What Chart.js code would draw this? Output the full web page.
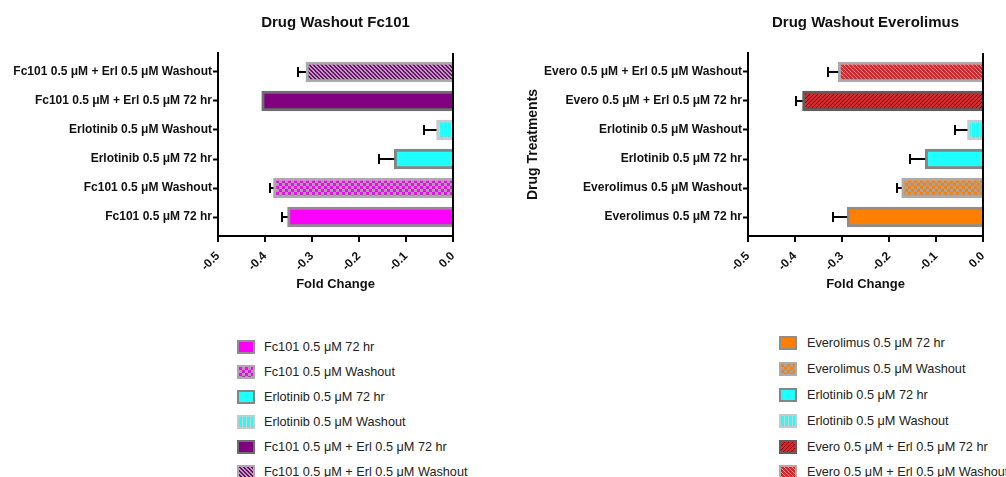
<!DOCTYPE html>
<html>
<head>
<meta charset="utf-8">
<script src="https://cdn.jsdelivr.net/npm/chart.js@4.4.1/dist/chart.umd.min.js"></script>
<style>
  html, body { margin: 0; padding: 0; background: #fff; }
  body { width: 1006px; height: 477px; position: relative; overflow: hidden;
         font-family: "Liberation Sans", Arial, sans-serif; }
  canvas { position: absolute; top: 0; }
  #fcChart { left: 0; }
  #evChart { left: 500px; }
  .legend { position: absolute; top: 0; font-size: 12.7px; color: #222; }
  .item { position: absolute; left: 0; height: 18px; line-height: 18px; white-space: nowrap; }
  .sw { position: absolute; left: 0; top: 2px; width: 14px; height: 10px; border: 2px solid #999; }
  .lbl { position: absolute; top: 0; }
</style>
</head>
<body>
<canvas id="fcChart" width="490" height="300"></canvas>
<canvas id="evChart" width="506" height="300"></canvas>
<div class="legend" id="fcLegend" style="left:237px"></div>
<div class="legend" id="evLegend" style="left:779px"></div>

<script>
// ---- data (index 0 is the bottom row / first legend entry) ----
const fcLabels = [
  'Fc101 0.5 μM 72 hr',
  'Fc101 0.5 μM Washout',
  'Erlotinib 0.5 μM 72 hr',
  'Erlotinib 0.5 μM Washout',
  'Fc101 0.5 μM + Erl 0.5 μM 72 hr',
  'Fc101 0.5 μM + Erl 0.5 μM Washout'
];
const fcMeans  = [-0.352, -0.382, -0.125, -0.035, -0.407, -0.313];
const fcErrors = [0.012, 0.007, 0.032, 0.027, 0.0, 0.017];

const evLabels = [
  'Everolimus 0.5 μM 72 hr',
  'Everolimus 0.5 μM Washout',
  'Erlotinib 0.5 μM 72 hr',
  'Erlotinib 0.5 μM Washout',
  'Evero 0.5 μM + Erl 0.5 μM 72 hr',
  'Evero 0.5 μM + Erl 0.5 μM Washout'
];
const evMeans  = [-0.289, -0.173, -0.123, -0.033, -0.384, -0.308];
const evErrors = [0.030, 0.011, 0.033, 0.027, 0.014, 0.022];

const foldTicks = [-0.5, -0.4, -0.3, -0.2, -0.1, 0.0];

const chartTitles = ['Drug Washout Fc101', 'Drug Washout Everolimus'];
const xAxisTitle = 'Fold Change';
const yAxisTitle = 'Drug Treatments';

// ---- fills ----
const FONT = '"Liberation Sans", Arial, sans-serif';

function makeTile(w, h, paint) {
  const c = document.createElement('canvas');
  c.width = w; c.height = h;
  const g = c.getContext('2d');
  paint(g);
  return { pattern: g.createPattern(c, 'repeat'), url: c.toDataURL() };
}
function solid(color) {
  return makeTile(1, 1, g => { g.fillStyle = color; g.fillRect(0, 0, 1, 1); });
}
function checker(fg, bg, s) {
  return makeTile(2 * s, 2 * s, g => {
    g.fillStyle = bg; g.fillRect(0, 0, 2 * s, 2 * s);
    g.fillStyle = fg; g.fillRect(0, 0, s, s); g.fillRect(s, s, s, s);
  });
}
function vStripes(fg, bg) {
  return makeTile(4, 1, g => {
    g.fillStyle = bg; g.fillRect(0, 0, 4, 1);
    g.fillStyle = fg; g.fillRect(0, 0, 3, 1);
  });
}
function diagonal(fg, bg, rising, fgWidth) {
  return makeTile(4, 4, g => {
    g.fillStyle = bg; g.fillRect(0, 0, 4, 4);
    g.fillStyle = fg;
    for (let y = 0; y < 4; y++) for (let x = 0; x < 4; x++) {
      const k = rising ? (x + y) % 4 : ((x - y) % 4 + 4) % 4;
      if (k < fgWidth) g.fillRect(x, y, 1, 1);
    }
  });
}

const MAGENTA = '#ff00ff', CYAN = '#1effff', PURPLE = '#800080', ORANGE = '#ff8000', RED = '#ee1c24';

const erlFills = [solid(CYAN), vStripes(CYAN, '#cfcfcf')];
const fcFills = [
  solid(MAGENTA),
  checker(MAGENTA, '#a4a4a4', 3),
  erlFills[0], erlFills[1],
  solid(PURPLE),
  diagonal(PURPLE, '#a9a9a9', false, 2)
];
const evFills = [
  solid(ORANGE),
  checker(ORANGE, '#a4a4a4', 3),
  erlFills[0], erlFills[1],
  diagonal(RED, '#3c1818', true, 3),
  diagonal(RED, '#c9a4a4', false, 3)
];
const fcBorders = ['#8e8e8e', '#ababab', '#858585', '#c9c9c9', '#6e6e6e', '#ababab'];
const evBorders = ['#8e8e8e', '#ababab', '#858585', '#c9c9c9', '#5e5e5e', '#ababab'];

// ---- one-sided error bars ----
const errorBars = {
  id: 'errorBars',
  afterDatasetsDraw(chart, args, opts) {
    const { ctx } = chart;
    const xs = chart.scales.x;
    const ds = chart.data.datasets[0];
    const meta = chart.getDatasetMeta(0);
    ctx.save();
    ctx.strokeStyle = '#000';
    ctx.lineWidth = 2;
    meta.data.forEach((bar, i) => {
      const err = opts.errors[i];
      if (!err) return;
      const v = ds.data[i].x;
      const xe = Math.round(xs.getPixelForValue(v - err));
      const y = Math.round(bar.y);
      ctx.beginPath();
      ctx.moveTo(bar.x, y);
      ctx.lineTo(xe, y);
      ctx.moveTo(xe, y - 5);
      ctx.lineTo(xe, y + 5);
      ctx.stroke();
    });
    ctx.restore();
  }
};

function buildChart(canvasId, labels, means, errors, fills, borders, title, axisLeft, padRight, showYTitle) {
  return new Chart(document.getElementById(canvasId), {
    type: 'bar',
    data: {
      datasets: [{
        data: means.map((v, i) => ({ x: v, y: i })),
        backgroundColor: fills.map(f => f.pattern),
        borderColor: borders,
        borderWidth: 3,
        barThickness: 20
      }]
    },
    options: {
      indexAxis: 'y',
      responsive: false,
      animation: false,
      events: [],
      layout: { padding: { top: 0, left: 0, right: padRight, bottom: 0 } },
      plugins: {
        legend: { display: false },
        tooltip: { enabled: false },
        title: {
          display: true,
          text: title,
          fullSize: false,
          color: '#111',
          font: { family: FONT, size: 15, weight: 'bold' },
          padding: { top: 14, bottom: 21 }
        },
        errorBars: { errors: errors }
      },
      scales: {
        x: {
          type: 'linear',
          z: 1,
          offset: false,
          min: foldTicks[0],
          max: foldTicks[foldTicks.length - 1],
          afterBuildTicks: s => { s.ticks = foldTicks.map(v => ({ value: v })); },
          ticks: {
            callback: v => Number(v).toFixed(1),
            minRotation: 45,
            maxRotation: 45,
            padding: 7,
            color: '#111',
            font: { family: FONT, size: 12, weight: 'bold' }
          },
          grid: {
            offset: false,
            color: c => (c.tick && Math.abs(c.tick.value) < 1e-9) ? '#000' : 'rgba(0,0,0,0)',
            lineWidth: 2,
            tickLength: 6,
            tickColor: '#000',
            tickWidth: 2
          },
          border: { display: true, color: '#000', width: 2 },
          title: {
            display: true,
            text: xAxisTitle,
            color: '#111',
            font: { family: FONT, size: 13, weight: 'bold' },
            padding: { top: 0, bottom: 8 }
          },
          afterFit: s => { s.height = 64; }
        },
        y: {
          type: 'linear',
          z: 1,
          offset: false,
          min: -0.655,
          max: 5.655,
          afterBuildTicks: s => { s.ticks = labels.map((_, i) => ({ value: i })); },
          ticks: {
            autoSkip: false,
            callback: v => labels[v],
            padding: 1,
            color: '#111',
            font: { family: FONT, size: 12, weight: 'bold' }
          },
          grid: {
            offset: false,
            drawOnChartArea: false,
            tickLength: 5,
            tickColor: '#000',
            tickWidth: 2
          },
          border: { display: true, color: '#000', width: 2 },
          title: {
            display: showYTitle,
            text: yAxisTitle,
            color: '#111',
            font: { family: FONT, size: 14, weight: 'bold' },
            padding: { top: 25, bottom: 0 }
          },
          afterFit: s => { s.width = axisLeft; }
        }
      }
    },
    plugins: [errorBars]
  });
}

buildChart('fcChart', fcLabels, fcMeans, fcErrors, fcFills, fcBorders, chartTitles[0], 218, 37, false);
buildChart('evChart', evLabels, evMeans, evErrors, evFills, evBorders, chartTitles[1], 248, 23, true);

// ---- legends ----
function buildLegend(id, labels, fills, borders, rows, textLeft) {
  const box = document.getElementById(id);
  labels.forEach((text, i) => {
    const item = document.createElement('div');
    item.className = 'item';
    item.style.top = (rows[i] - 9) + 'px';
    const sw = document.createElement('div');
    sw.className = 'sw';
    sw.style.backgroundImage = 'url(' + fills[i].url + ')';
    sw.style.borderColor = borders[i];
    const lbl = document.createElement('span');
    lbl.className = 'lbl';
    lbl.style.left = textLeft + 'px';
    lbl.textContent = text;
    item.appendChild(sw);
    item.appendChild(lbl);
    box.appendChild(item);
  });
}
buildLegend('fcLegend', fcLabels, fcFills, fcBorders, [347, 372, 397, 422, 447, 472], 27);
buildLegend('evLegend', evLabels, evFills, evBorders, [343, 369, 395, 421, 447, 472], 28);
</script>
</body>
</html>
